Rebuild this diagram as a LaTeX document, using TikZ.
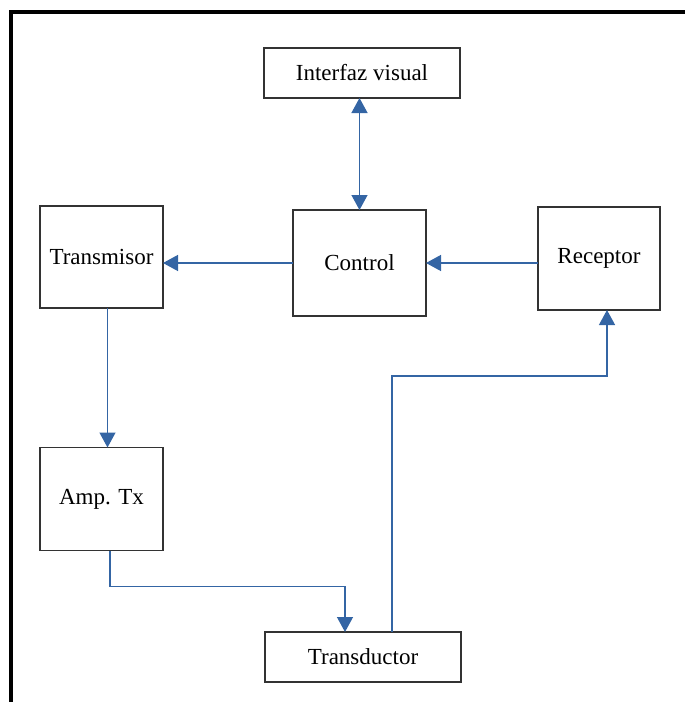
\documentclass[tikz,border=0pt]{standalone}
\usepackage{fontspec}
\setmainfont{Liberation Serif}
\usepackage{xcolor}
\usepackage{tikz}
\usetikzlibrary{arrows.meta}
\definecolor{azul}{HTML}{3465A4}
\tikzstyle{bloque} = [draw=black!80, line width=0.75pt, inner sep=0pt, outer sep=0pt, align=center, font=\fontsize{11.5}{14}\selectfont]
\tikzstyle{flecha} = [azul, line width=0.65pt, -{Triangle[length=7.5pt,width=8pt]}]
\tikzstyle{doble} = [azul, line width=0.65pt, {Triangle[length=7.5pt,width=8pt]}-{Triangle[length=7.5pt,width=8pt]}]

\begin{document}
\begin{tikzpicture}[x=0.5pt, y=-0.5pt]
    \useasboundingbox (0,0) rectangle (685,702);
    % marco
    \draw[line width=1.8pt] (11,702) -- (11,12) -- (685,12);

    \node[bloque, minimum width=98pt, minimum height=25pt] (interfaz) at (362,73) {Interfaz visual};
    \node[bloque, minimum width=66.5pt, minimum height=53pt] (control) at (359.5,263) {Control};
    \node[bloque, minimum width=61.5pt, minimum height=51pt] (transmisor) at (101.5,257) {Transmisor};
    \node[bloque, minimum width=61pt, minimum height=51.5pt] (receptor) at (599,258.5) {Receptor};
    \node[bloque, minimum width=61.5pt, minimum height=51.5pt] (amp) at (101.5,499) {Amp. Tx};
    \node[bloque, minimum width=98pt, minimum height=25pt] (transductor) at (363,657) {Transductor};

    \draw[doble] (control.north) -- (control.north |- interfaz.south);
    \draw[flecha] (control.west) -- (control.west -| transmisor.east);
    \draw[flecha] (receptor.west |- control.east) -- (control.east);
    \draw[flecha] ([xshift=3pt]transmisor.south) -- ([xshift=3pt]amp.north);
    % Amp. Tx -> Transductor
    \draw[flecha] ([xshift=4.25pt]amp.south) -- ++(0,36) -| ([xshift=-9pt]transductor.north);
    % Transductor -> Receptor
    \draw[flecha] ([xshift=14.5pt]transductor.north) -- ++(0,-256) -| ([xshift=4pt]receptor.south);
\end{tikzpicture}
\end{document}
